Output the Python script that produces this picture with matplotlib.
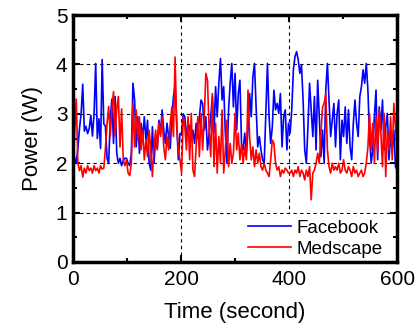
"""
power trace of two apps over a 10 minute session
"""

import numpy as np
import matplotlib
matplotlib.use("Agg")
import matplotlib.pyplot as plt
from matplotlib.ticker import MultipleLocator


# sample times, one reading every 3 s
time_s = np.arange(0, 601, 3)

facebook_w = [
    # 0 - 96 s
    2.33, 2.10, 2.00, 2.30, 2.70, 3.00, 3.60, 2.65, 2.75, 2.60, 2.70,
    2.97, 2.55, 3.00, 4.02, 2.50, 2.90, 2.30, 4.10, 2.80, 2.75, 2.10,
    2.00, 2.90, 3.30, 2.40, 3.35, 2.20, 2.00, 2.10, 1.95, 2.05, 2.10,
    # 99 - 198 s
    2.10, 2.00, 1.95, 2.20, 3.62, 3.28, 2.33, 2.94, 2.20, 2.81, 2.50,
    2.94, 2.47, 2.87, 2.00, 1.86, 2.74, 2.00, 2.54, 2.30, 2.87, 2.60,
    3.08, 2.67, 2.40, 2.81, 2.54, 2.30, 2.94, 3.35, 3.60, 2.81, 2.07,
    2.60,
    # 201 - 297 s
    2.60, 3.00, 2.94, 2.54, 2.80, 2.74, 2.47, 2.67, 2.40, 2.81, 2.50,
    2.94, 3.28, 3.21, 2.67, 2.94, 2.27, 2.60, 2.94, 3.35, 2.61, 3.55,
    2.94, 3.62, 4.12, 3.28, 3.55, 2.61, 2.00, 3.08, 3.62, 4.02, 3.14,
    # 300 - 399 s
    3.82, 2.67, 3.41, 3.68, 2.40, 2.27, 2.61, 2.20, 2.67, 3.41, 2.94,
    3.75, 4.02, 3.14, 2.33, 2.54, 2.27, 2.07, 2.00, 3.01, 4.02, 2.94,
    2.40, 2.74, 3.48, 3.08, 3.21, 3.01, 3.41, 2.33, 2.94, 3.08, 2.27,
    2.81,
    # 402 - 498 s
    2.61, 3.08, 3.89, 4.16, 4.26, 4.09, 3.82, 3.99, 3.28, 2.27, 2.00,
    2.74, 3.62, 3.08, 2.54, 3.35, 2.27, 3.68, 2.94, 2.13, 2.67, 2.00,
    3.48, 4.02, 3.28, 2.54, 2.87, 3.21, 2.33, 3.01, 3.28, 2.07, 2.87,
    # 501 - 600 s
    2.54, 3.14, 2.40, 3.08, 2.33, 2.07, 2.81, 3.28, 2.81, 2.54, 3.35,
    3.55, 3.89, 3.62, 4.02, 3.48, 2.54, 2.00, 2.27, 2.94, 3.48, 2.07,
    3.14, 2.67, 3.28, 2.27, 2.74, 3.01, 2.07, 2.54, 2.27, 2.67, 1.93,
    1.86,
]

medscape_w = [
    # 0 - 96 s
    2.05, 2.60, 3.30, 2.00, 1.85, 1.95, 1.72, 1.90, 1.80, 1.95, 1.85,
    1.90, 1.80, 1.95, 1.85, 1.90, 1.80, 1.95, 1.88, 1.90, 2.30, 2.80,
    3.15, 2.55, 3.10, 3.45, 2.55, 3.10, 3.35, 2.33, 3.10, 2.07, 1.95,
    # 99 - 198 s
    2.07, 1.80, 1.75, 2.00, 3.21, 2.33, 3.08, 2.47, 2.94, 2.27, 2.67,
    2.07, 2.47, 2.13, 2.67, 2.27, 1.73, 2.33, 2.67, 2.27, 2.81, 2.54,
    2.94, 2.33, 2.07, 2.54, 2.27, 2.81, 3.14, 2.54, 4.15, 2.74, 2.27,
    2.07,
    # 201 - 297 s
    1.80, 2.94, 2.74, 2.27, 2.94, 2.07, 3.01, 1.86, 1.73, 2.33, 2.94,
    2.13, 3.01, 2.27, 2.94, 3.82, 3.68, 2.67, 2.13, 3.41, 1.93, 2.81,
    1.80, 2.54, 2.00, 3.08, 1.80, 2.27, 2.87, 1.93, 2.40, 2.00, 2.20,
    # 300 - 399 s
    3.01, 2.27, 2.61, 2.07, 2.40, 2.00, 2.33, 2.07, 3.48, 2.54, 2.07,
    2.33, 1.93, 2.27, 2.00, 2.20, 1.93, 1.86, 2.00, 1.86, 1.80, 1.73,
    2.07, 2.47, 2.40, 2.00, 1.86, 1.93, 1.73, 1.86, 1.80, 1.90, 1.86,
    1.80,
    # 402 - 498 s
    1.80, 1.86, 1.73, 1.86, 1.80, 1.93, 1.73, 1.86, 1.80, 1.66, 1.86,
    1.73, 1.93, 1.26, 1.80, 1.86, 2.00, 2.20, 2.00, 2.61, 3.14, 3.21,
    3.41, 2.27, 1.93, 1.80, 2.00, 1.86, 1.93, 1.86, 2.00, 1.80, 1.86,
    # 501 - 600 s
    2.07, 1.86, 1.80, 1.93, 1.86, 1.73, 1.93, 1.80, 1.86, 1.73, 1.80,
    1.86, 1.73, 1.80, 2.00, 2.33, 3.01, 2.27, 2.81, 2.00, 2.94, 2.20,
    3.08, 2.61, 1.93, 3.01, 1.73, 2.67, 2.27, 2.94, 2.07, 3.21, 2.74,
    2.20,
]

x_ticks = [0, 200, 400, 600]
y_ticks = [0, 1, 2, 3, 4, 5]

plt.rcParams['font.family'] = ['Liberation Sans', 'DejaVu Sans']

fig = plt.figure(figsize=(4.16, 3.31), dpi=100)
ax = fig.add_axes([0.1755, 0.2085, 0.779, 0.746])

ax.plot(time_s, facebook_w, color='#0000FF', linewidth=1.2, label='Facebook')
ax.plot(time_s, medscape_w, color='#FF0000', linewidth=1.2, label='Medscape')

ax.set_xlim(0, 600)
ax.set_ylim(0, 5)
ax.set_xticks(x_ticks)
ax.set_yticks(y_ticks)
ax.xaxis.set_minor_locator(MultipleLocator(100))
ax.yaxis.set_minor_locator(MultipleLocator(0.5))

# dashed black grid on major ticks only
ax.grid(True, which='major', color='black', linestyle=(0, (3, 3)), linewidth=0.8)

ax.tick_params(which='both', direction='in', top=True, right=True,
               labelsize=15, width=1.5)
ax.tick_params(which='major', length=5)
ax.tick_params(which='minor', length=3)
ax.tick_params(axis='x', pad=6)
ax.tick_params(axis='y', pad=4)

for sp in ax.spines.values():
    sp.set_linewidth(2.5)

ax.set_xlabel('Time (second)', fontsize=16, labelpad=9)
ax.set_ylabel('Power (W)', fontsize=16, labelpad=9)

leg = ax.legend(loc='lower right', bbox_to_anchor=(0.985, -0.02), fontsize=13.5,
                frameon=True, fancybox=False, framealpha=1, edgecolor='none',
                handlelength=2.3, handletextpad=0.3, labelspacing=0.2,
                borderpad=0.3, borderaxespad=0.2)
leg.get_frame().set_linewidth(0)
# keep the frame under the spines so the axis box stays whole
leg.set_zorder(2.4)

plt.savefig('out.png', dpi=100)
plt.close()
